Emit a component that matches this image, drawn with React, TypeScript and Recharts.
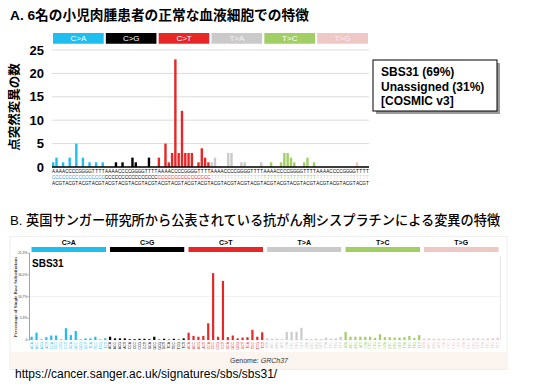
import React from 'react';
import { BarChart, Bar, XAxis, YAxis, CartesianGrid, Cell, ReferenceArea } from 'recharts';

// ---------- categories ----------
const substitutionTypes = ['C>A', 'C>G', 'C>T', 'T>A', 'T>C', 'T>G'];
const typeColors = ['#1ebff0', '#000000', '#e62725', '#cbcacb', '#a1cf64', '#edc8c5'];
const typeLabelColors = ['#ffffff', '#ffffff', '#ffffff', '#f4f4f4', '#ffffff', '#f9eeee'];
const fivePrimeBases = ['A', 'A', 'A', 'A', 'C', 'C', 'C', 'C', 'G', 'G', 'G', 'G', 'T', 'T', 'T', 'T'];
const threePrimeBases = ['A', 'C', 'G', 'T', 'A', 'C', 'G', 'T', 'A', 'C', 'G', 'T', 'A', 'C', 'G', 'T'];

// ---------- panel A: counts of point mutations (6 pediatric sarcoma patients) ----------
const countsCA = [1, 2, 0, 1, 0, 2, 0, 5, 0, 2, 0, 1, 0, 1, 0, 1];
const countsCG = [0, 0, 0, 1, 0, 1, 0, 0, 2, 1, 0, 0, 0, 2, 0, 0];
const countsCT = [2, 0, 5, 1, 3, 23, 3, 12, 3, 3, 3, 0, 1, 4, 2, 1];
const countsTA = [1, 2, 0, 0, 0, 3, 3, 0, 0, 1, 1, 0, 0, 0, 0, 1];
const countsTC = [0, 0, 1, 0, 0, 1, 3, 3, 2, 1, 0, 0, 1, 2, 0, 1];
const countsTG = [0, 0, 0, 0, 0, 0, 0, 0, 0, 0, 0, 0, 1, 0, 0, 0];
const countTicks = [0, 5, 10, 15, 20, 25];

// ---------- panel B: COSMIC SBS31 percentages ----------
const pctCA = [0.8, 1.8, 0.15, 0.7, 1.1, 1.1, 0.15, 2.9, 1.2, 2.2, 0.15, 0.4, 0.4, 0.8, 0.15, 0.4];
const pctCG = [0.8, 0.4, 0.4, 0.4, 0.2, 0.2, 0.3, 0.3, 0.2, 0.8, 0.1, 0.3, 0.1, 0.3, 0.1, 0.4];
const pctCT = [1.8, 1.0, 0.8, 1.0, 4.1, 16.4, 0.8, 14.5, 0.7, 1.1, 0.4, 0.6, 0.7, 2.5, 0.8, 1.9];
const pctTA = [0.4, 0.3, 0.3, 0.2, 2.0, 2.0, 2.0, 3.0, 0.3, 0.2, 0.3, 0.2, 0.6, 0.3, 0.4, 0.8];
const pctTC = [2.0, 0.8, 0.8, 0.8, 0.8, 0.8, 0.5, 1.4, 0.7, 0.7, 0.6, 0.6, 0.7, 1.0, 0.5, 1.2];
const pctTG = [0.3, 0.4, 0.3, 0.3, 0.3, 0.2, 0.3, 0.3, 0.4, 0.3, 0.4, 0.4, 0.3, 0.4, 0.5, 0.6];
const pctTicks = [0, 5.33, 10.67, 16, 21.33];
const pctTickLabels = ['0', '5.3%', '10.7%', '16.0%', '21.3%'];

const countsByType = [countsCA, countsCG, countsCT, countsTA, countsTC, countsTG];
const pctByType = [pctCA, pctCG, pctCT, pctTA, pctTC, pctTG];

type Row = { ctx: string; t: number; five: string; mid: string; three: string; count: number; pct: number };
const rows: Row[] = [];
substitutionTypes.forEach((s, t) => {
  fivePrimeBases.forEach((f, j) => {
    rows.push({
      ctx: `${f}[${s}]${threePrimeBases[j]}`,
      t,
      five: f,
      mid: s[0],
      three: threePrimeBases[j],
      count: countsByType[t][j],
      pct: pctByType[t][j],
    });
  });
});
const rowByCtx: Record<string, Row> = {};
rows.forEach((r) => (rowByCtx[r.ctx] = r));
const groupFirst = substitutionTypes.map((_, t) => rows[t * 16].ctx);
const groupLast = substitutionTypes.map((_, t) => rows[t * 16 + 15].ctx);

const SANS = "'Liberation Sans', Arial, 'Noto Sans CJK JP', sans-serif";
const JP = "'Liberation Sans', 'Noto Sans CJK JP', sans-serif";

const renderTickA = (props: any) => {
  const { x, y, payload } = props;
  const r = rowByCtx[payload && payload.value];
  if (!r) return <g />;
  return (
    <g fontFamily={SANS} fontSize={4.6} textAnchor="middle">
      <text x={x} y={y + 6.2} fill="#000">{r.five}</text>
      <text x={x} y={y + 12.4} fill={r.t === 0 ? '#3d8fe0' : typeColors[r.t]}>{r.mid}</text>
      <text x={x} y={y + 17.8} fill="#000">{r.three}</text>
    </g>
  );
};

const renderTickB = (props: any) => {
  const { x, y, payload } = props;
  const r = rowByCtx[payload && payload.value];
  if (!r) return <g />;
  const ty = y + 2;
  return (
    <text
      x={x}
      y={ty}
      transform={`rotate(-90, ${x}, ${ty})`}
      textAnchor="end"
      dominantBaseline="central"
      fontSize={3.4}
      fontFamily={SANS}
      fill={typeColors[r.t]}
    >
      {`${r.five}${r.mid}${r.three}`}
    </text>
  );
};

export default function App() {
  return (
    <div style={{ position: 'absolute', left: 0, top: 0, width: 535, height: 391, background: '#fff', overflow: 'hidden' }}>
      {/* background decorations & text */}
      <svg width={535} height={391} style={{ position: 'absolute', left: 0, top: 0 }}>
        <text x={10} y={20} fontFamily={JP} fontSize={13.7} fontWeight="bold" fill="#000">
          A. 6名の小児肉腫患者の正常な血液細胞での特徴
        </text>
        <text
          x={15}
          y={107}
          transform="rotate(-90, 15, 107)"
          textAnchor="middle"
          dominantBaseline="central"
          fontFamily={JP}
          fontSize={12.5}
          fontWeight="bold"
          fill="#000"
        >
          点突然変異の数
        </text>
        {/* legend box */}
        <rect x={376} y={63} width={124} height={51} fill="#9a9a9a" />
        <rect x={373} y={60} width={124} height={51} fill="#fff" stroke="#000" strokeWidth={1} />
        <g fontFamily={SANS} fontSize={12} fontWeight="bold" fill="#000">
          <text x={381} y={76}>SBS31 (69%)</text>
          <text x={381} y={90.5}>Unassigned (31%)</text>
          <text x={381} y={105}>[COSMIC v3]</text>
        </g>

        <text x={10} y={225} fontFamily={JP} fontSize={13.2} fill="#000" fontWeight={500}>
          B. 英国サンガー研究所から公表されている抗がん剤シスプラチンによる変異の特徴
        </text>
        {/* panel B frame */}
        <rect x={10} y={236.5} width={497} height={133} fill="#fff" stroke="#eeeeee" strokeWidth={1} />
        <rect x={10.5} y={352} width={496} height={17} fill="#fcf4ef" />
        <line x1={500.5} y1={253} x2={500.5} y2={340} stroke="#e6e6e6" strokeWidth={1} />
        <text
          x={15}
          y={297}
          transform="rotate(-90, 15, 297)"
          textAnchor="middle"
          dominantBaseline="central"
          fontFamily="'Liberation Serif', 'DejaVu Serif', serif"
          fontSize={4.8}
          fontWeight="bold"
          fill="#333"
        >
          Percentage of Single Base Substitutions
        </text>
        <text x={32} y={267} fontFamily={SANS} fontSize={10} fontWeight="bold" fill="#000">SBS31</text>
        <text x={230} y={363} fontFamily={SANS} fontSize={7} fill="#333">
          Genome: <tspan fontStyle="italic">GRCh37</tspan>
        </text>
        <text x={15} y={378} fontFamily={SANS} fontSize={12} fill="#000">
          https://cancer.sanger.ac.uk/signatures/sbs/sbs31/
        </text>
      </svg>

      {/* Chart A */}
      <div style={{ position: 'absolute', left: 0, top: 0 }}>
        <BarChart
          width={535}
          height={197}
          data={rows}
          margin={{ top: 50, right: 166, bottom: 0, left: 22 }}
          barSize={2.4}
        >
          <CartesianGrid vertical={false} stroke="#dcdcdc" strokeWidth={1} />
          <XAxis
            dataKey="ctx"
            interval={0}
            height={30}
            axisLine={{ stroke: '#000', strokeWidth: 1.5 }}
            tickLine={false}
            tickSize={0}
            tickMargin={0}
            tick={renderTickA}
          />
          <YAxis
            domain={[0, 25]}
            ticks={countTicks}
            width={30}
            axisLine={false}
            tickLine={false}
            tick={{ fontSize: 13, fontWeight: 'bold', fill: '#000', fontFamily: SANS }}
          />
          {substitutionTypes.map((s, t) => (
            <ReferenceArea
              key={s}
              x1={groupFirst[t]}
              x2={groupLast[t]}
              y1={26.1}
              y2={28.85}
              ifOverflow="visible"
              fill={typeColors[t]}
              fillOpacity={1}
              stroke="#ffffff"
              strokeWidth={2}
              label={{ value: s, position: 'center', fill: typeLabelColors[t], fontSize: 8, fontFamily: SANS }}
            />
          ))}
          <Bar dataKey="count" isAnimationActive={false} barSize={2.4}>
            {rows.map((r) => (
              <Cell key={r.ctx} fill={typeColors[r.t]} />
            ))}
          </Bar>
        </BarChart>
      </div>

      {/* Chart B */}
      <div style={{ position: 'absolute', left: 0, top: 230 }}>
        <BarChart
          width={535}
          height={130}
          data={rows}
          margin={{ top: 23, right: 34.5, bottom: 6, left: 17.5 }}
          barSize={2.2}
        >
          <CartesianGrid vertical={false} stroke="#f1f1f1" strokeWidth={1} />
          <XAxis
            dataKey="ctx"
            interval={0}
            height={14}
            axisLine={false}
            tickLine={false}
            tickSize={0}
            tickMargin={0}
            tick={renderTickB}
          />
          <YAxis
            domain={[0, 21.33]}
            ticks={pctTicks}
            width={12}
            axisLine={{ stroke: '#8a8a8a', strokeWidth: 0.8 }}
            tickLine={{ stroke: '#8a8a8a', strokeWidth: 0.6 }}
            tickSize={1.5}
            tickMargin={0.5}
            tickFormatter={(v: number) => pctTickLabels[pctTicks.indexOf(v)] ?? ''}
            tick={{ fontSize: 3.4, fill: '#444', fontFamily: SANS }}
          />
          {substitutionTypes.map((s, t) => (
            <ReferenceArea
              key={s}
              x1={groupFirst[t]}
              x2={groupLast[t]}
              y1={21.08}
              y2={23.29}
              ifOverflow="visible"
              fill={typeColors[t]}
              fillOpacity={1}
              stroke="#ffffff"
              strokeWidth={4}
              label={{ value: s, position: 'top', offset: 0.5, fill: '#000', fontSize: 7, fontWeight: 'bold', fontFamily: SANS }}
            />
          ))}
          <Bar dataKey="pct" isAnimationActive={false} barSize={2.2}>
            {rows.map((r) => (
              <Cell key={r.ctx} fill={typeColors[r.t]} />
            ))}
          </Bar>
        </BarChart>
      </div>
    </div>
  );
}
